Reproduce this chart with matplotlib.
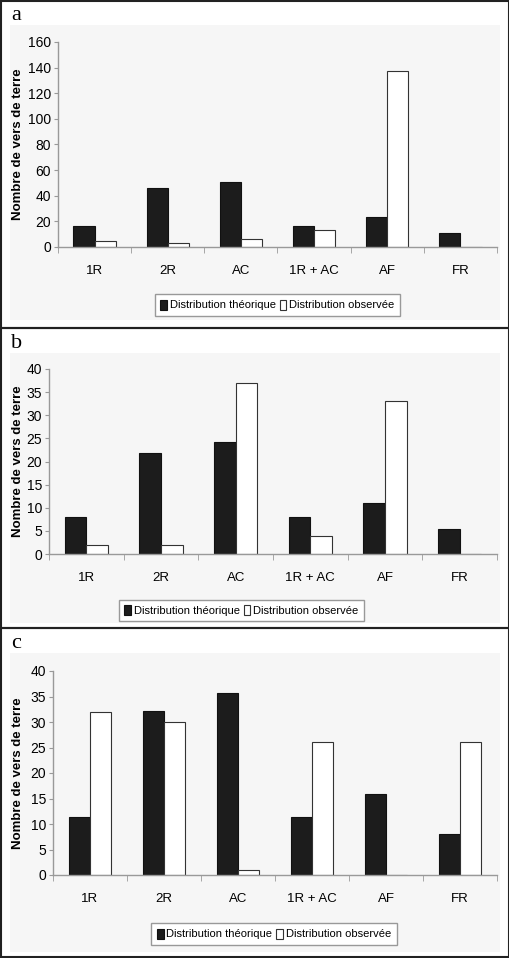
import matplotlib
matplotlib.use("Agg")
import matplotlib.pyplot as plt
from matplotlib.patches import Rectangle
import numpy as np

W, H = 510, 958

categories = ["1R", "2R", "AC", "1R + AC", "AF", "FR"]
theo_a = [16.4, 45.8, 51, 16.4, 23.2, 11.2]
obs_a = [4.5, 3.5, 6, 13, 137, 0]
theo_b = [7.9, 21.9, 24.3, 7.9, 11.1, 5.5]
obs_b = [2, 2, 37, 4, 33, 0]
theo_c = [11.4, 32.2, 35.6, 11.4, 15.9, 8.0]
obs_c = [32, 30, 1, 26, 0, 26]

plt.rcParams['font.family'] = ['Liberation Sans', 'DejaVu Sans']

fig = plt.figure(figsize=(W / 100, H / 100), dpi=100)


def fbox(x0, y0, x1, y1):
    # pixel box (top-left origin) -> figure fraction [l, b, w, h]
    return [x0 / W, 1 - y1 / H, (x1 - x0) / W, (y1 - y0) / H]


def panel(letter, frame, bg, axbox, ymax, step, theo, obs, legbox):
    fx0, fy0, fx1, fy1 = frame
    l, b, w, h = fbox(fx0, fy0, fx1, fy1)
    fig.patches.append(Rectangle((l, b), w, h, transform=fig.transFigure,
                                 fill=False, edgecolor="#222222", lw=1.5, zorder=-1))
    l, b, w, h = fbox(*bg)
    fig.patches.append(Rectangle((l, b), w, h, transform=fig.transFigure,
                                 facecolor="#f6f6f6", edgecolor="none", zorder=-2))
    fig.text((fx0 + 10) / W, 1 - (fy0 + 15) / H, letter, family="Liberation Serif",
             fontsize=16, va="center", ha="left")

    ax = fig.add_axes(fbox(*axbox))
    ax.set_facecolor("none")
    x = np.arange(len(categories))
    bw = 0.29
    ax.bar(x - bw / 2, theo, bw, color="#1c1c1c", edgecolor="#111111", lw=0.8,
           label="Distribution théorique")
    ax.bar(x + bw / 2, obs, bw, color="white", edgecolor="#333333", lw=0.8,
           label="Distribution observée")
    ax.set_xlim(-0.5, len(categories) - 0.5)
    ax.set_ylim(0, ymax)
    ax.set_yticks(np.arange(0, ymax + 1, step))
    ax.set_xticks(x)
    ax.set_xticklabels(categories, fontsize=9.5)
    ax.set_xticks(np.arange(-0.5, len(categories)), minor=True)
    ax.tick_params(axis="x", which="major", length=0, pad=13)
    ax.tick_params(axis="x", which="minor", length=4, color="#999999", direction="out")
    ax.tick_params(axis="y", length=3, color="#999999", labelsize=10, pad=2)
    for s in ("top", "right"):
        ax.spines[s].set_visible(False)
    for s in ("left", "bottom"):
        ax.spines[s].set_color("#999999")
        ax.spines[s].set_linewidth(1.0)
    ax.set_ylabel("Nombre de vers de terre", fontweight="bold", fontsize=9.5)
    ax.yaxis.set_label_coords((24 - axbox[0]) / (axbox[2] - axbox[0]), 0.5)

    lx0, ly0, lx1, ly1 = legbox
    leg = ax.legend(loc="center", bbox_to_anchor=((lx0 + lx1) / 2 / W, 1 - (ly0 + ly1) / 2 / H),
                    bbox_transform=fig.transFigure, ncol=2, fontsize=8,
                    handlelength=0.6, handleheight=1.0, handletextpad=0.25,
                    columnspacing=0.35, borderpad=0.5, fancybox=False, framealpha=1)
    leg.get_frame().set_edgecolor("#999999")
    leg.get_frame().set_facecolor("white")
    leg.get_frame().set_linewidth(1.0)
    return ax


panel("a", (1, 1, 509, 328), (10, 25, 500, 320), (58, 42, 497, 247), 160, 20,
      theo_a, obs_a, (162, 293, 393, 317))
panel("b", (1, 328, 509, 628), (10, 353, 500, 623), (49, 369, 497, 554), 40, 5,
      theo_b, obs_b, (135, 599, 348, 622))
panel("c", (1, 628, 509, 957), (10, 653, 500, 952), (53, 671, 497, 875), 40, 5,
      theo_c, obs_c, (159, 921, 389, 947))

fig.savefig("out.png", dpi=100, facecolor="white")
